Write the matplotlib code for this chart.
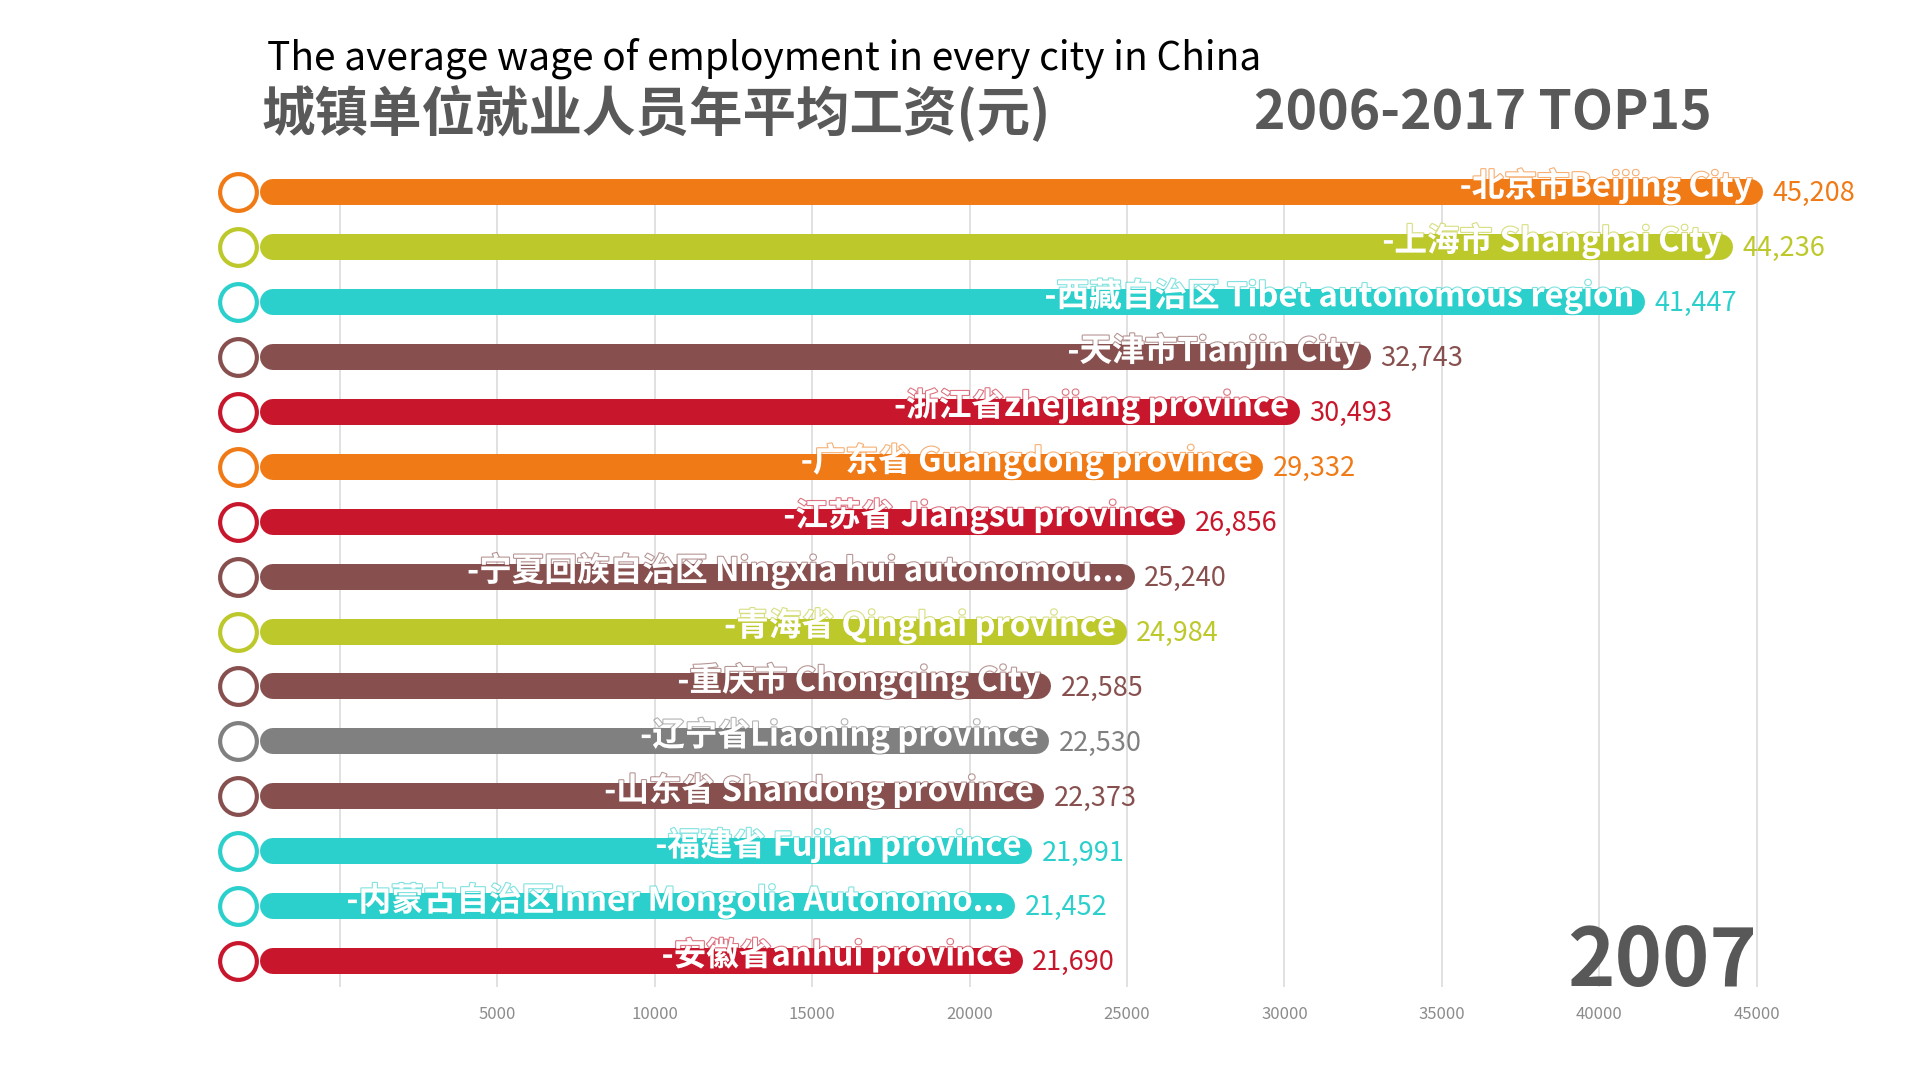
import matplotlib
matplotlib.use("Agg")
import matplotlib.pyplot as plt
import matplotlib.patheffects as pe

plt.rcParams['font.family'] = ['Noto Sans CJK SC', 'DejaVu Sans']

# data (frame 2007)
labels = ["-北京市Beijing City", "-上海市 Shanghai City", "-西藏自治区 Tibet autonomous region",
          "-天津市Tianjin City", "-浙江省zhejiang province", "-广东省 Guangdong province",
          "-江苏省 Jiangsu province", "-宁夏回族自治区 Ningxia hui autonomou...",
          "-青海省 Qinghai province", "-重庆市 Chongqing City", "-辽宁省Liaoning province",
          "-山东省 Shandong province", "-福建省 Fujian province",
          "-内蒙古自治区Inner Mongolia Autonomo...", "-安徽省anhui province"]
values = [45208, 44236, 41447, 32743, 30493, 29332, 26856, 25240, 24984,
          22585, 22530, 22373, 21991, 21452, 21690]
colors = ["#F07A16", "#BDC82B", "#2BCFCB", "#87504E", "#C8172D", "#F07A16",
          "#C8172D", "#87504E", "#BDC82B", "#87504E", "#808080", "#87504E",
          "#2BCFCB", "#2BCFCB", "#C8172D"]
ticks = [0, 5000, 10000, 15000, 20000, 25000, 30000, 35000, 40000, 45000]
year = "2007"

fig = plt.figure(figsize=(19.2, 10.8), dpi=100)
ax = fig.add_axes([0.1115, 0.0861, 0.869, 0.7667])
xmin, xmax = -4000, 49000
ax.set_xlim(xmin, xmax)
ax.set_ylim(14.47, -0.6)

# px per data unit -> cap radius in data units
px_per_unit = 1920 * 0.869 / (xmax - xmin)
bar_px = 26
cap = (bar_px / 2) / px_per_unit
bar_start = -2541
circle_x = -3249

# gridlines
ax.vlines(ticks, 0, 14.47, colors="#dcdcdc", lw=1.2, zorder=0)

for i, (lab, v, c) in enumerate(zip(labels, values, colors)):
    ax.plot([bar_start + cap, v - cap], [i, i], color=c, lw=bar_px * 0.72,
            solid_capstyle='round', zorder=2, clip_on=False)
    ax.scatter([circle_x], [i], s=700, facecolor="white", edgecolor=c,
               linewidth=3, zorder=3, clip_on=False)
    ax.text(v - 350, i - 0.11, lab, color="white", fontsize=23.5, fontweight="bold",
            ha="right", va="center", zorder=4,
            path_effects=[pe.withStroke(linewidth=1.6, foreground=c, alpha=0.6)])
    ax.text(v + 300, i + 0.03, f"{v:,}", color=c, fontsize=19.5, ha="left", va="center",
            zorder=4)

ax.set_xticks(ticks)
ax.set_xticklabels(["" if t == 0 else str(t) for t in ticks], color="#8c8c8c", fontsize=12)
ax.tick_params(axis='x', length=0, pad=14)
ax.set_yticks([])
for s in ax.spines.values():
    s.set_visible(False)

ax.text(45000, 14.45, year, fontsize=58, fontweight="bold", color="#585858",
        ha="right", va="baseline", zorder=5)

fig.text(267 / 1920, 1 - 58 / 1080, "The average wage of employment in every city in China",
         fontsize=28, color="black", ha="left", va="center")
fig.text(262 / 1920, 1 - 114 / 1080, "城镇单位就业人员年平均工资(元)",
         fontsize=38.5, fontweight="bold", color="#595959", ha="left", va="center")
fig.text(1712 / 1920, 1 - 114 / 1080, "2006-2017 TOP15",
         fontsize=38.5, fontweight="bold", color="#595959", ha="right", va="center")

fig.savefig("out.png", dpi=100)
